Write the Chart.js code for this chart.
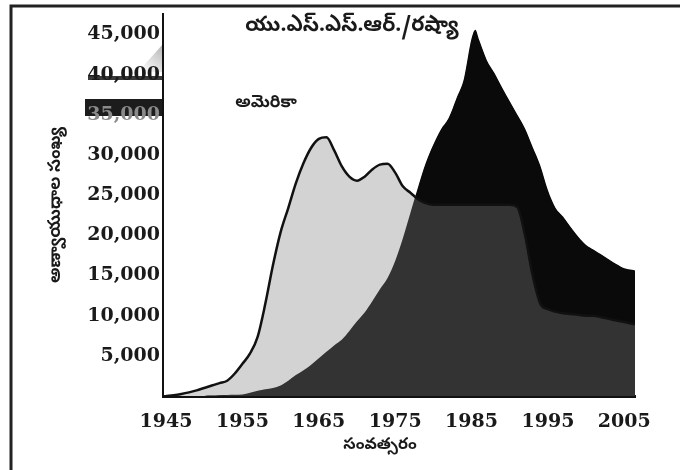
<!DOCTYPE html>
<html><head><meta charset="utf-8">
<script src="https://cdn.jsdelivr.net/npm/chart.js@4"></script>
<style>html,body{margin:0;padding:0;background:#fff}#wrap{width:680px;height:470px;position:relative}</style>
</head><body><div id="wrap"><canvas id="c" width="680" height="470"></canvas></div>
<script>
const years = [1945,1946,1947,1948,1949,1950,1951,1952,1953,1954,1955,1956,1957,1958,1959,1960,1961,1962,1963,1964,1965,1966,1967,1968,1969,1970,1971,1972,1973,1974,1975,1976,1977,1978,1979,1980,1981,1982,1983,1984,1985,1985.5,1986,1987,1988,1989,1990,1991,1992,1993,1994,1995,1996,1997,1998,1999,2000,2001,2002,2003,2004,2005,2006,2007];
const usaValues = [0,100,250,450,700,1000,1300,1600,1900,2800,4000,5300,7400,11500,16300,20400,23400,26500,29000,30900,32000,32200,30600,28600,27300,26800,27300,28200,28800,28900,27800,26100,25300,24500,24000,23800,23800,23800,23800,23800,23800,23800,23800,23800,23800,23800,23800,23500,20000,15000,11500,10800,10500,10300,10200,10100,10000,10000,9800,9600,9400,9200,9000,8900];
const ussrValues = [0,0,0,0,0,10,30,60,120,150,200,400,650,850,1000,1300,1900,2600,3200,3900,4700,5500,6300,7000,8100,9300,10400,11800,13300,14700,16800,19600,22800,26000,29000,31300,33200,34600,37000,39500,44500,45600,44300,41800,40200,38400,36700,35000,33300,31000,28700,25600,23400,22300,21000,19800,18800,18200,17600,17000,16400,15900,15700,15500];
const xTickValues = [1945,1955,1965,1975,1985,1995,2005];
const yTickValues = [5000,10000,15000,20000,25000,30000,35000,40000,45000];
const ussrLabel = 'యు.ఎస్.ఎస్.ఆర్./రష్యా';
const usaLabel = 'అమెరికా';
const yTitle = 'అణ్వాయుధాల సంఖ్య';
const xTitle = 'సంవత్సరం';

const teluguFont = '"Noto Sans Telugu","Noto Serif Telugu","Lohit Telugu","Pothana2000","Gidugu",sans-serif';
const tickFont = {family:'"DejaVu Serif","Liberation Serif",serif', size:19, weight:'bold'};

const scanPlugin = {
  id:'scan',
  beforeDraw(chart){
    const ctx = chart.ctx;
    ctx.save();
    // print artifacts around the 35,000 / 40,000 labels
    ctx.fillStyle = '#1c1c1c';
    ctx.fillRect(85, 99, 78, 17);
    ctx.fillStyle = '#3a3a3a';
    ctx.fillRect(88, 76, 75, 4);
    const g = ctx.createLinearGradient(140, 70, 163, 45);
    g.addColorStop(0, 'rgba(120,120,120,0.0)');
    g.addColorStop(1, 'rgba(120,120,120,0.55)');
    ctx.fillStyle = g;
    ctx.beginPath(); ctx.moveTo(138,72); ctx.lineTo(163,44); ctx.lineTo(163,72); ctx.closePath(); ctx.fill();
    ctx.restore();
  }
};

const textPlugin = {
  id:'texts',
  afterDraw(chart){
    const ctx = chart.ctx;
    ctx.save();
    // page frame (scan border)
    ctx.strokeStyle = '#222';
    ctx.lineWidth = 3;
    ctx.beginPath();
    ctx.moveTo(680,6); ctx.lineTo(11,6); ctx.lineTo(11,470);
    ctx.stroke();
    ctx.fillStyle = '#1a1a1a';
    ctx.textAlign = 'center';
    ctx.textBaseline = 'middle';
    ctx.font = 'bold 21px ' + teluguFont;
    ctx.fillText(ussrLabel, 352, 28);
    ctx.font = 'bold 17px ' + teluguFont;
    ctx.fillText(usaLabel, 266, 105);
    ctx.font = 'bold 16px ' + teluguFont;
    ctx.fillText(xTitle, 380, 447);
    ctx.translate(58, 205);
    ctx.rotate(-Math.PI/2);
    ctx.font = 'bold 17px ' + teluguFont;
    ctx.fillText(yTitle, 0, 0);
    ctx.restore();
  }
};

const mk = vals => years.map((y,i)=>({x:y, y:vals[i]}));

new Chart(document.getElementById('c'), {
  type:'line',
  data:{datasets:[
    {label:'USA', data:mk(usaValues), borderColor:'#111', borderWidth:2.5, pointRadius:0,
     cubicInterpolationMode:'monotone', fill:{target:1, above:'#d3d3d3', below:'#0a0a0a'}},
    {label:'USSR', data:mk(ussrValues), borderColor:'rgba(0,0,0,0)', borderWidth:0, pointRadius:0,
     cubicInterpolationMode:'monotone', fill:'origin', backgroundColor:'#333333'}
  ]},
  options:{
    responsive:false, animation:false, devicePixelRatio:1,
    layout:{padding:{left:0,right:45,top:10,bottom:0}},
    plugins:{legend:{display:false}, tooltip:{enabled:false}},
    scales:{
      x:{type:'linear', min:1944.6, max:2006.4,
        afterBuildTicks:s=>{s.ticks = xTickValues.map(v=>({value:v}));},
        afterFit:s=>{s.height = 74;},
        ticks:{font:tickFont, color:'#1a1a1a', padding:15, maxRotation:0, autoSkip:false, callback:v=>String(v)},
        grid:{display:false, drawTicks:false},
        border:{display:true, color:'#111', width:3}},
      y:{type:'linear', min:0, max:47500,
        afterBuildTicks:s=>{s.ticks = yTickValues.map(v=>({value:v}));},
        afterFit:s=>{s.width = 163;},
        ticks:{font:tickFont, color:c=>(c.tick && c.tick.value===35000 ? '#8a8a8a' : '#1a1a1a'), padding:3, callback:v=>v.toLocaleString('en-US')},
        grid:{display:false, drawTicks:false},
        border:{display:true, color:'#111', width:2}}
    }
  },
  plugins:[scanPlugin, textPlugin]
});
</script></body></html>
